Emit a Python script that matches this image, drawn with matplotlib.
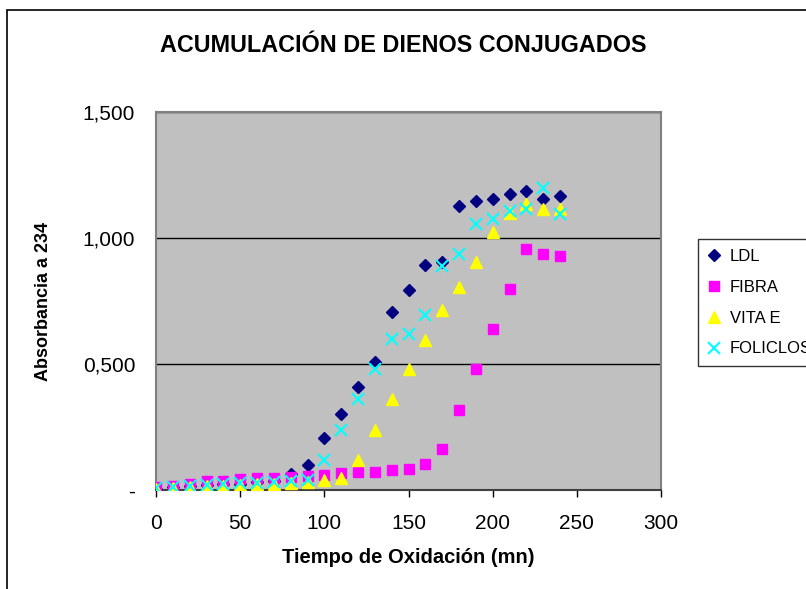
import matplotlib.pyplot as plt
from matplotlib.patches import Rectangle
from matplotlib.ticker import FuncFormatter

plt.rcParams['font.family'] = ['Liberation Sans', 'DejaVu Sans']

tiempo = [0, 10, 20, 30, 40, 50, 60, 70, 80, 90, 100, 110, 120,
          130, 140, 150, 160, 170, 180, 190, 200, 210, 220, 230, 240]

ldl = [0.005, 0.010, 0.015, 0.020, 0.022, 0.025, 0.030, 0.035, 0.062, 0.099,
       0.206, 0.300, 0.410, 0.507, 0.707, 0.794, 0.893, 0.905, 1.127, 1.147,
       1.155, 1.175, 1.187, 1.155, 1.167]
fibra = [0.010, 0.016, 0.024, 0.036, 0.036, 0.042, 0.046, 0.046, 0.053, 0.057,
         0.060, 0.066, 0.073, 0.073, 0.079, 0.083, 0.103, 0.163, 0.317, 0.481,
         0.640, 0.796, 0.955, 0.935, 0.929]
vita_e = [0.004, 0.008, 0.010, 0.014, 0.016, 0.020, 0.022, 0.025, 0.028, 0.032,
          0.040, 0.047, 0.120, 0.238, 0.360, 0.480, 0.595, 0.714, 0.807, 0.903,
          1.022, 1.098, 1.135, 1.114, 1.115]
foliclos = [0.008, 0.012, 0.016, 0.020, 0.022, 0.026, 0.028, 0.030, 0.034, 0.040,
            0.119, 0.238, 0.360, 0.479, 0.598, 0.618, 0.694, 0.890, 0.937, 1.054,
            1.074, 1.107, 1.115, 1.200, 1.095]

fig = plt.figure(figsize=(8.06, 5.89), dpi=100)
W, H = 806, 589
# chart area border (runs off the right and bottom edges, like the reference)
fig.patches.append(Rectangle((7 / W, -0.1), 1.2, (H - 10) / H + 0.1,
                             transform=fig.transFigure, fill=False,
                             edgecolor='black', linewidth=1.2))

ax = fig.add_axes([156 / W, 1 - 490 / H, (661 - 156) / W, (490 - 112) / H])
ax.set_facecolor('#C0C0C0')
for s in ax.spines.values():
    s.set_color('#808080')
    s.set_linewidth(1.5)
ax.spines['bottom'].set_color('#404040')

ax.plot(tiempo, ldl, linestyle='none', marker='D', color='#000080', markersize=6.5, label='LDL', zorder=3)
ax.plot(tiempo, fibra, linestyle='none', marker='s', color='#FF00FF', markersize=7, label='FIBRA', zorder=3)
ax.plot(tiempo, vita_e, linestyle='none', marker='^', color='#FFFF00', markersize=8, label='VITA E', zorder=3)
ax.plot(tiempo, foliclos, linestyle='none', marker='x', color='#00FFFF', markersize=8,
        markeredgewidth=1.5, label='FOLICLOS', zorder=4)

ax.set_xlim(0, 300)
ax.set_ylim(0, 1.5)
ax.set_xticks(range(0, 301, 50))
ax.set_yticks([0, 0.5, 1.0, 1.5])
ax.yaxis.grid(True, color='black', linewidth=1)
ax.set_axisbelow(True)


def fmt_y(v, pos):
    if abs(v) < 1e-9:
        return '-'
    return '{:.3f}'.format(v).replace('.', ',')


ax.yaxis.set_major_formatter(FuncFormatter(fmt_y))
ax.tick_params(axis='x', labelsize=15, length=5, width=1, direction='out', pad=12)
ax.tick_params(axis='y', labelsize=15, length=0, pad=15)

ax.set_xlabel('Tiempo de Oxidación (mn)', fontsize=14.5, fontweight='bold')
ax.set_ylabel('Absorbancia a 234', fontsize=13, fontweight='bold')
ax.yaxis.set_label_coords(52 / W, 1 - 301 / H, transform=fig.transFigure)
ax.xaxis.set_label_coords(0.5 * (156 + 661) / W, 1 - 548 / H, transform=fig.transFigure)

fig.text(0.5, 1 - 45 / H, 'ACUMULACIÓN DE DIENOS CONJUGADOS', ha='center', va='center',
         fontsize=16.8, fontweight='bold')

leg = ax.legend(loc='upper left', bbox_to_anchor=(698 / W, 1 - 239 / H),
                bbox_transform=fig.transFigure, frameon=True, fancybox=False,
                fontsize=12, handlelength=0.7, handletextpad=0.6,
                labelspacing=0.95, borderaxespad=0, borderpad=0.6)
leg.get_frame().set_edgecolor('black')
leg.get_frame().set_linewidth(1)

fig.savefig('out.png', dpi=100)
